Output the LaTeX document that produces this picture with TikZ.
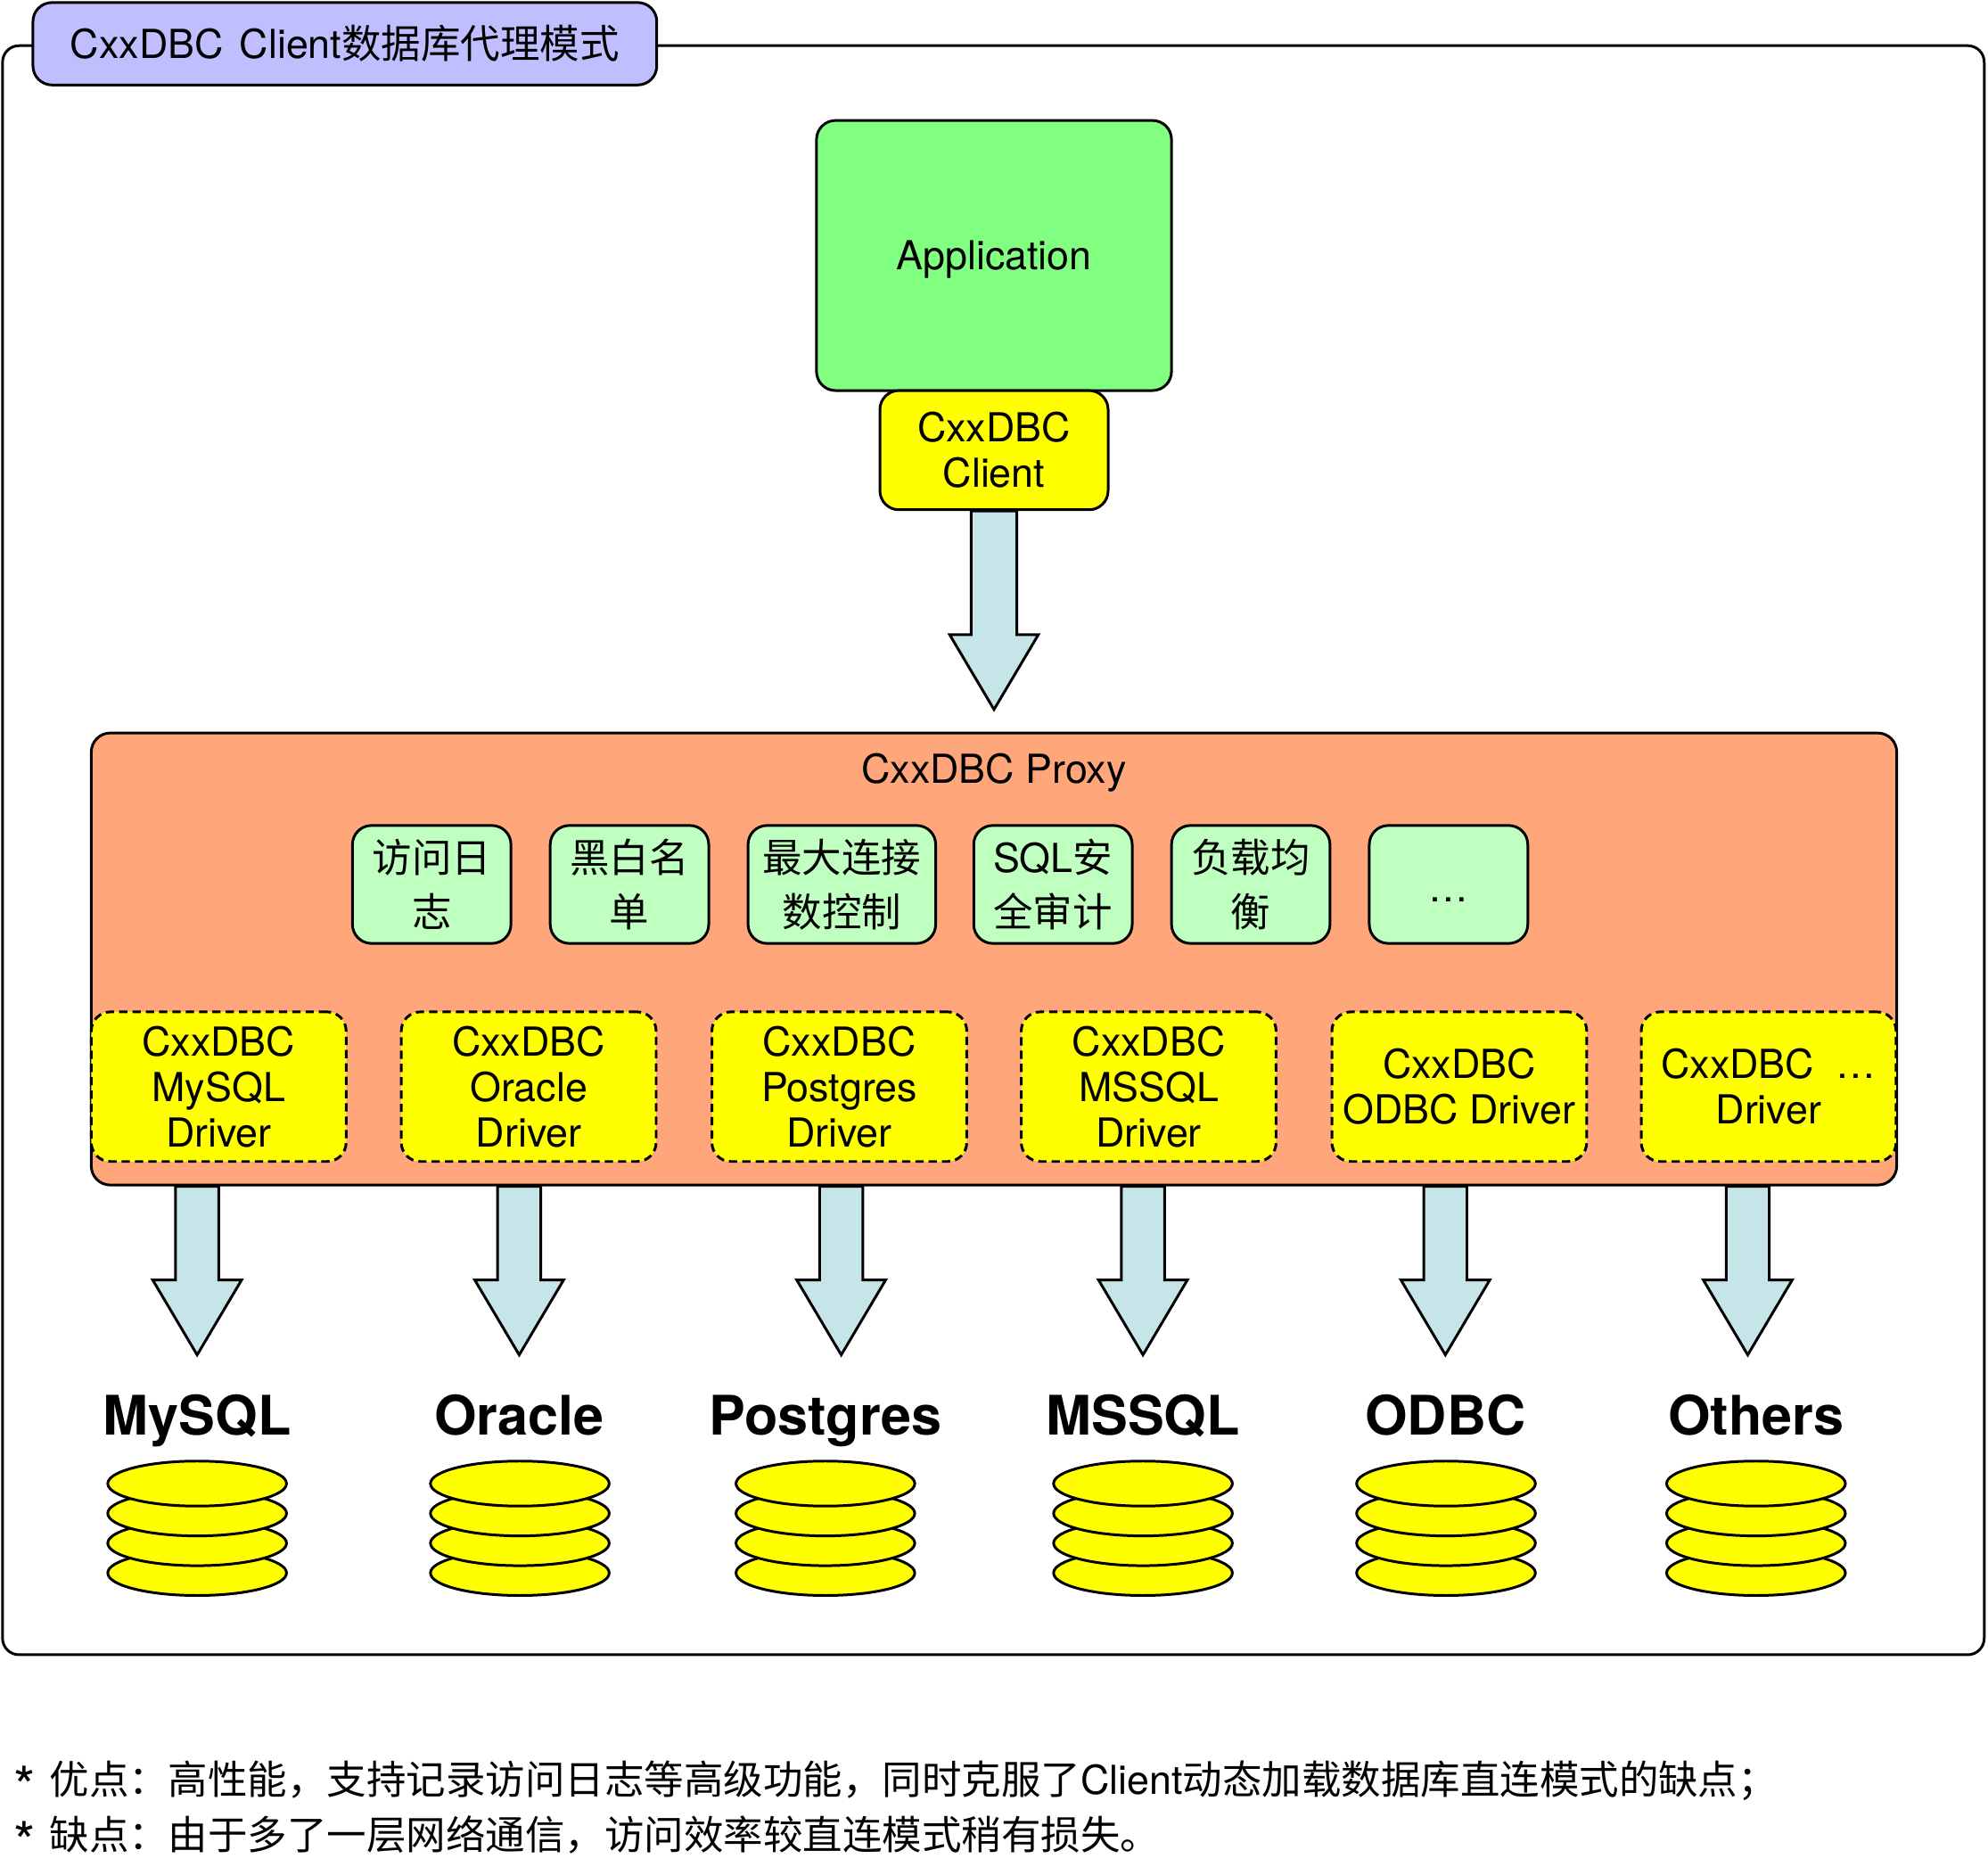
\documentclass[tikz,border=0pt]{standalone}
\usepackage{fontspec}
\setmainfont{TeX Gyre Heros}
\newfontfamily\cjk[Scale=0.993]{Noto Sans CJK SC}
\usetikzlibrary{positioning,calc,shapes.geometric}
\definecolor{titleblue}{HTML}{BFBFFF}
\definecolor{appgreen}{HTML}{80FF80}
\definecolor{proxyorange}{HTML}{FFA67A}
\definecolor{featuregreen}{HTML}{BFFFBF}
\definecolor{arrowblue}{HTML}{C6E5E9}
\definecolor{diskyellow}{HTML}{FFFF00}

\begin{document}
\begin{tikzpicture}[x=1pt,y=-1pt,on grid,line width=2.1pt,
box/.style={draw,rounded corners=15pt,align=center,inner sep=0pt,font=\fontsize{31.5}{36}\selectfont},
oneline/.style={text height=23pt,text depth=0pt},
feature/.style={box,fill=featuregreen,minimum width=125pt,minimum height=93pt,font=\fontsize{31.5}{43}\selectfont},
driver/.style={box,fill=diskyellow,dash pattern=on 6.5pt off 4pt,minimum width=201pt,minimum height=118pt},
dbname/.style={font=\fontsize{43}{50}\bfseries\selectfont,text height=31pt,text depth=0pt},
disk/.style={ellipse,draw,fill=diskyellow,minimum width=141pt,minimum height=35.5pt,inner sep=0pt},
note/.style={anchor=west,inner sep=0pt,font=\fontsize{31.5}{36}\selectfont},
fatarrow/.style={fill=arrowblue,draw,line join=miter,to path={let \p1=(\tikztostart),\p2=(\tikztotarget) in
 (\x1-#1,\y1) -- (\x1-#1,\y2+59pt) -- (\x1-35pt,\y2+59pt) -- (\x2,\y2) -- (\x1+35pt,\y2+59pt) -- (\x1+#1,\y2+59pt) -- (\x1+#1,\y1) -- cycle}}]
\useasboundingbox (0,0) rectangle (1568,1478);

% outer frame and title
\node[box,rounded corners=13pt,minimum width=1563pt,minimum height=1269pt] (frame) at (783.5,670.5) {};
\node[box,fill=titleblue,minimum width=492pt,minimum height=65pt] (title) at (272,34.5) {CxxDBC\hspace{4pt} Client{\cjk 数据库代理模式}};

% application
\node[box,oneline,fill=appgreen,minimum width=280pt,minimum height=213pt] (app) at (784,201.5) {Application};
\node[box,fill=diskyellow,minimum width=180pt,minimum height=94pt] (client) [below = 153.5pt of app] {CxxDBC\\Client};

% proxy
\node[box,fill=proxyorange,minimum width=1424pt,minimum height=356.5pt] (proxy) at (784,756.3) {};
\node[oneline,font=\fontsize{31.5}{36}\selectfont] (proxytitle) at (784,606) {CxxDBC Proxy};
\coordinate (proxytip) at (784,559.5);
\draw[fatarrow=18pt] (client.south) to (proxytip);

\node[feature] (log) at (340.5,697.5) {\cjk 访问日\\\cjk 志};
\node[feature] (acl) [right = 156pt of log] {\cjk 黑白名\\\cjk 单};
\node[feature,minimum width=148pt] (conn) [right = 167.5pt of acl] {\cjk 最大连接\\\cjk 数控制};
\node[feature] (audit) [right = 166.5pt of conn] {SQL{\cjk 安}\\\cjk 全审计};
\node[feature] (balance) [right = 156pt of audit] {\cjk 负载均\\\cjk 衡};
\node[feature] (more) [right = 156pt of balance] {\raisebox{-27pt}{…}};

\node[driver] (dmysql) at (172.5,857) {CxxDBC\\MySQL\\Driver};
\node[driver] (doracle) [right = 244.5pt of dmysql] {CxxDBC\\Oracle\\Driver};
\node[driver] (dpostgres) [right = 245pt of doracle] {CxxDBC\\Postgres\\Driver};
\node[driver] (dmssql) [right = 244pt of dpostgres] {CxxDBC\\MSSQL\\Driver};
\node[driver] (dodbc) [right = 245pt of dmssql] {CxxDBC\\ODBC Driver};
\node[driver] (dothers) [right = 244pt of dodbc] {CxxDBC\ \ …\\Driver};

% arrow tips under the proxy
\coordinate (tmysql) at (155.5,1068.5);
\coordinate (toracle) at (409.5,1068.5);
\coordinate (tpostgres) at (663.5,1068.5);
\coordinate (tmssql) at (901.5,1068.5);
\coordinate (todbc) at (1140,1068.5);
\coordinate (tothers) at (1378.5,1068.5);
\draw[fatarrow=17pt] (proxy.south -| tmysql) to (tmysql);
\draw[fatarrow=17pt] (proxy.south -| toracle) to (toracle);
\draw[fatarrow=17pt] (proxy.south -| tpostgres) to (tpostgres);
\draw[fatarrow=17pt] (proxy.south -| tmssql) to (tmssql);
\draw[fatarrow=17pt] (proxy.south -| todbc) to (todbc);
\draw[fatarrow=17pt] (proxy.south -| tothers) to (tothers);

% databases
\node[dbname] (nmysql) at (155.5,1116) {MySQL};
\node[dbname] (noracle) at (409.5,1116) {Oracle};
\node[dbname] (npostgres) at (651,1116) {Postgres};
\node[dbname] (nmssql) at (901.5,1116) {MSSQL};
\node[dbname] (nodbc) at (1140,1116) {ODBC};
\node[dbname] (nothers) at (1385,1116) {Others};

\node[disk] (m4) at (155.5,1240.5) {};
\node[disk] (m3) [above = 23.5pt of m4] {};
\node[disk] (m2) [above = 23.5pt of m3] {};
\node[disk] (m1) [above = 23.5pt of m2] {};
\node[disk] (o4) at (410,1240.5) {};
\node[disk] (o3) [above = 23.5pt of o4] {};
\node[disk] (o2) [above = 23.5pt of o3] {};
\node[disk] (o1) [above = 23.5pt of o2] {};
\node[disk] (p4) at (651,1240.5) {};
\node[disk] (p3) [above = 23.5pt of p4] {};
\node[disk] (p2) [above = 23.5pt of p3] {};
\node[disk] (p1) [above = 23.5pt of p2] {};
\node[disk] (s4) at (901.5,1240.5) {};
\node[disk] (s3) [above = 23.5pt of s4] {};
\node[disk] (s2) [above = 23.5pt of s3] {};
\node[disk] (s1) [above = 23.5pt of s2] {};
\node[disk] (d4) at (1140.5,1240.5) {};
\node[disk] (d3) [above = 23.5pt of d4] {};
\node[disk] (d2) [above = 23.5pt of d3] {};
\node[disk] (d1) [above = 23.5pt of d2] {};
\node[disk] (x4) at (1385,1240.5) {};
\node[disk] (x3) [above = 23.5pt of x4] {};
\node[disk] (x2) [above = 23.5pt of x3] {};
\node[disk] (x1) [above = 23.5pt of x2] {};

% notes
\node[note] (pros) at (10,1404.5) {\makebox[28pt][l]{\smash{\raisebox{-10pt}{\fontsize{44}{36}\selectfont *}}}{\cjk 优点：高性能，支持记录访问日志等高级功能，同时克服了}Client{\cjk 动态加载数据库直连模式的缺点；}};
\node[note] (cons) at (10,1447) {\makebox[28pt][l]{\smash{\raisebox{-10pt}{\fontsize{44}{36}\selectfont *}}}{\cjk 缺点：由于多了一层网络通信，访问效率较直连模式稍有损失。}};
\end{tikzpicture}
\end{document}
